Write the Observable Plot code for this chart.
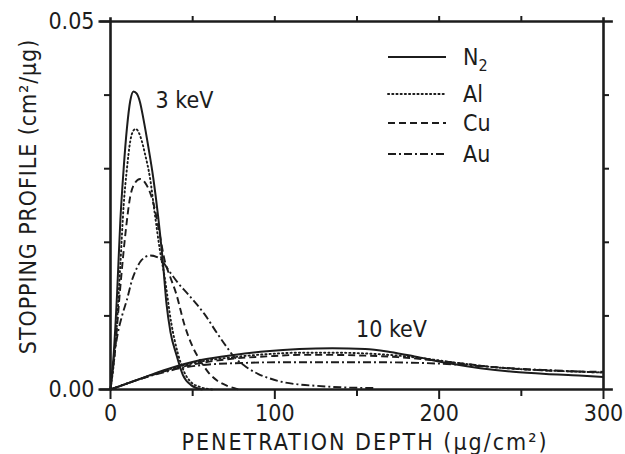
<!DOCTYPE html>
<html><head><meta charset="utf-8">
<script src="https://cdn.jsdelivr.net/npm/d3@7"></script>
<script src="https://cdn.jsdelivr.net/npm/@observablehq/plot@0.6"></script>
<style>
body{margin:0;background:#fff;}
#chart{position:relative;width:625px;height:454px;}
#chart svg{overflow:visible;}
</style></head><body><div id="chart"></div>
<script>
// ---- data (depth in µg/cm², stopping profile in cm²/µg) ----
const materials = ["N2", "Al", "Cu", "Au"];
const energyLabels = ["3 keV", "10 keV"];
const energyLabelPos = [[45, 0.0393], [171, 0.0082]];
const xTitle = "PENETRATION DEPTH (μg/cm²)";
const yTitle = "STOPPING PROFILE (cm²/μg)";
const xTicksMajor = [0, 100, 200, 300];
const xTicksMinor = [50, 150, 250];
const xTicksTop = [50, 100, 150, 200, 250];
const yTicksLabeled = [0, 0.05];
const yTicksMinor = [0.01, 0.02, 0.03, 0.04];

const n2_3keV = [[0,0],[2,0.005],[4,0.013],[6,0.023],[8,0.030],[10,0.0355],[12,0.0392],[14,0.0405],[16,0.0402],[18,0.039],[20,0.0368],[23,0.033],[26,0.0288],[29,0.0235],[32,0.017],[34,0.0118],[36.5,0.0078],[40,0.0048],[44,0.002],[49,0.0006],[56,0]];
const al_3keV = [[0,0],[3,0.006],[6,0.017],[8,0.025],[10,0.030],[12,0.0337],[14,0.0352],[15.5,0.0354],[17,0.035],[19,0.0338],[21,0.032],[24,0.0288],[27,0.0238],[30,0.019],[33,0.0152],[37,0.009],[41,0.0049],[45,0.0023],[49,0.001],[55,0.0003],[62,0]];
const cu_3keV = [[0,0],[3,0.006],[6,0.014],[9,0.021],[12,0.0262],[15,0.0281],[18,0.0286],[21,0.0281],[24,0.0268],[27,0.0245],[30,0.021],[33,0.0175],[36,0.0155],[40,0.013],[45,0.0088],[50,0.0058],[55,0.0038],[60,0.0022],[65,0.0012],[71,0.0005],[78,0]];
const au_3keV = [[0,0],[2,0.004],[4,0.0071],[7,0.0100],[10,0.0122],[13,0.0148],[16,0.0165],[19,0.0176],[24,0.0182],[30,0.0178],[36,0.016],[41,0.0145],[47,0.013],[52,0.0117],[57,0.0103],[65,0.0076],[70,0.006],[75,0.0045],[83,0.003],[90,0.0021],[97,0.0015],[105,0.001],[114,0.0007],[125,0.0005],[140,0.0003],[160,0.0002]];

const n2_10keV = [[0,0],[15,0.0012],[35,0.0028],[55,0.004],[75,0.0047],[95,0.0052],[115,0.0055],[135,0.0056],[155,0.0055],[170,0.0051],[185,0.0045],[205,0.0036],[225,0.0029],[245,0.0024],[265,0.0021],[285,0.0019],[300,0.0017]];
const al_10keV = [[0,0],[15,0.0012],[35,0.0027],[55,0.0038],[75,0.0044],[95,0.0048],[115,0.0050],[135,0.0050],[155,0.0049],[175,0.0046],[195,0.0041],[215,0.0035],[235,0.003],[255,0.0027],[275,0.0025],[300,0.0023]];
const cu_10keV = [[0,0],[15,0.0012],[35,0.0026],[55,0.0036],[75,0.0042],[95,0.0045],[115,0.0047],[135,0.0047],[155,0.0046],[175,0.0044],[195,0.004],[215,0.0035],[235,0.003],[255,0.0027],[275,0.0025],[300,0.0024]];
const au_10keV = [[0,0],[15,0.0012],[30,0.0022],[45,0.003],[60,0.0034],[80,0.0036],[100,0.0037],[130,0.0037],[160,0.0037],[190,0.0036],[210,0.0034],[230,0.0031],[250,0.0028],[270,0.0026],[290,0.0024],[300,0.0023]];

// ---- styles ----
const ink = "#1c1c1c";
const font = "'DejaVu Sans Condensed', 'Liberation Sans Narrow', 'DejaVu Sans', sans-serif";
const fs = 23;
const dash = {N2: null, Al: "1.2,3", Cu: "7,4", Au: "8,3,2,3"};
const legendRowY = [57, 94, 123, 154];
const series = [
  ["N2", n2_3keV], ["Al", al_3keV], ["Cu", cu_3keV], ["Au", au_3keV],
  ["N2", n2_10keV], ["Al", al_10keV], ["Cu", cu_10keV], ["Au", au_10keV]
];

const lineMarks = series.map(([m, data]) => Plot.line(data, {
  x: d => d[0], y: d => d[1], curve: "monotone-x",
  stroke: ink, strokeWidth: m === "N2" ? 2 : 1.9,
  strokeDasharray: dash[m], strokeLinecap: m === "Al" ? "round" : "butt"
}));

const chart = Plot.plot({
  width: 625, height: 454,
  marginLeft: 110, marginRight: 22, marginTop: 21, marginBottom: 65,
  style: {fontFamily: font, color: ink, background: "#fff"},
  x: {domain: [0, 300]},
  y: {domain: [0, 0.05]},
  marks: [
    ...lineMarks,
    // frame
    Plot.ruleY([0, 0.05], {x1: -7, x2: 306, stroke: ink, strokeWidth: 2.6}),
    Plot.ruleX([0, 300], {y1: 0, y2: 0.0505, stroke: ink, strokeWidth: 2.6}),
    // axes
    Plot.axisX(xTicksMajor, {anchor: "bottom", tickSize: 10, tickPadding: 5, fontSize: fs, tickFormat: d => d, label: null, strokeWidth: 2}),
    Plot.axisX(xTicksMinor, {anchor: "bottom", tickSize: 7, tickFormat: () => "", label: null, strokeWidth: 2}),
    Plot.axisX(xTicksTop, {anchor: "top", tickSize: 6, tickFormat: () => "", label: null, strokeWidth: 2}),
    Plot.axisY(yTicksLabeled, {anchor: "left", tickSize: 10, tickPadding: 6, fontSize: fs, tickFormat: d => d.toFixed(2), label: null, strokeWidth: 2}),
    Plot.axisY(yTicksMinor, {anchor: "left", tickSize: 6, tickFormat: () => "", label: null, strokeWidth: 2}),
    Plot.axisY(yTicksMinor, {anchor: "right", tickSize: 5, tickFormat: () => "", label: null, strokeWidth: 2}),
    // energy annotations
    Plot.text(energyLabels, {x: (d, i) => energyLabelPos[i][0], y: (d, i) => energyLabelPos[i][1], text: d => d, fontSize: fs, fill: ink, textAnchor: "middle"}),
    // axis titles
    Plot.text([xTitle], {frameAnchor: "bottom", textAnchor: "middle", lineAnchor: "middle", dx: 8, dy: 53, text: d => d, fontSize: fs, fill: ink}),
    Plot.text([yTitle], {frameAnchor: "left", textAnchor: "middle", lineAnchor: "middle", dx: -82, dy: -9, rotate: -90, text: d => d, fontSize: fs, fill: ink})
  ]
});
document.getElementById("chart").appendChild(chart);

const svg = d3.select(chart);
// letter spacing of the axis titles
svg.selectAll("text").each(function() {
  const t = this.textContent;
  if (t === xTitle) d3.select(this).style("letter-spacing", "2px");
  if (t === yTitle) d3.select(this).style("letter-spacing", "0.9px");
});

// ---- legend ----
const lg = svg.append("g").attr("font-family", font).attr("fill", ink)
  .attr("font-size", fs).attr("text-anchor", "start");
materials.forEach((m, i) => {
  const y = legendRowY[i];
  lg.append("line").attr("x1", 388).attr("x2", 446).attr("y1", y).attr("y2", y)
    .attr("stroke", ink).attr("stroke-width", 1.9)
    .attr("stroke-dasharray", dash[m]).attr("stroke-linecap", m === "Al" ? "round" : "butt");
  const t = lg.append("text").attr("x", 463).attr("y", y).attr("dy", "0.36em");
  if (m === "N2") {
    t.append("tspan").text("N");
    t.append("tspan").attr("font-size", 16).attr("dy", "0.35em").text("2");
  } else {
    t.text(m);
  }
});
</script></body></html>
